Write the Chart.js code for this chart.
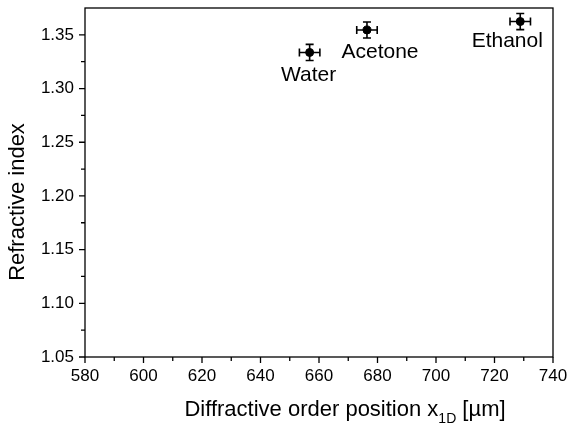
<!DOCTYPE html>
<html><head><meta charset="utf-8">
<script src="https://cdn.jsdelivr.net/npm/chart.js@4/dist/chart.umd.min.js"></script>
<style>html,body{margin:0;padding:0;background:#fff}#wrap{width:569px;height:425px;position:relative}</style>
</head><body><div id="wrap"><canvas id="c"></canvas></div>
<script>
// ---- data ----
const solvents = ['Water', 'Acetone', 'Ethanol'];
const positionX = [656.8, 676.4, 728.8];
const refractiveIndex = [1.3336, 1.3545, 1.3624];
const positionXErr = [3.5, 3.5, 3.5];
const refractiveIndexErr = [0.0075, 0.0075, 0.0075];
const xTickLabels = [580, 600, 620, 640, 660, 680, 700, 720, 740];
const xMinorTicks = [590, 610, 630, 650, 670, 690, 710, 730];
const yTickLabels = ['1.05', '1.10', '1.15', '1.20', '1.25', '1.30', '1.35'];
const yMinorTicks = [1.075, 1.125, 1.175, 1.225, 1.275, 1.325];
const xTitle = ['Diffractive order position x', '1D', ' [µm]'];
const yTitle = 'Refractive index';

// ---- style ----
const FONT = '"Liberation Sans", Arial, sans-serif';
const labelOffsets = [{dx: -1, dy: 23}, {dx: 13, dy: 22}, {dx: -13, dy: 20}];

const points = positionX.map((x, i) => ({x: x, y: refractiveIndex[i]}));

const decorPlugin = {
  id: 'decor',
  afterDatasetsDraw(chart) {
    const ctx = chart.ctx, xs = chart.scales.x, ys = chart.scales.y;
    ctx.save();
    ctx.strokeStyle = '#000'; ctx.lineWidth = 1.6;
    points.forEach((p, i) => {
      const px = xs.getPixelForValue(p.x), py = ys.getPixelForValue(p.y);
      const x1 = xs.getPixelForValue(p.x - positionXErr[i]), x2 = xs.getPixelForValue(p.x + positionXErr[i]);
      const y1 = ys.getPixelForValue(p.y - refractiveIndexErr[i]), y2 = ys.getPixelForValue(p.y + refractiveIndexErr[i]);
      ctx.beginPath();
      ctx.moveTo(x1, py); ctx.lineTo(x2, py);
      ctx.moveTo(x1, py - 4); ctx.lineTo(x1, py + 4);
      ctx.moveTo(x2, py - 4); ctx.lineTo(x2, py + 4);
      ctx.moveTo(px, y1); ctx.lineTo(px, y2);
      ctx.moveTo(px - 4, y1); ctx.lineTo(px + 4, y1);
      ctx.moveTo(px - 4, y2); ctx.lineTo(px + 4, y2);
      ctx.stroke();
    });
    ctx.fillStyle = '#000'; ctx.font = '21px ' + FONT; ctx.textAlign = 'center'; ctx.textBaseline = 'middle';
    points.forEach((p, i) => {
      const px = xs.getPixelForValue(p.x), py = ys.getPixelForValue(p.y);
      ctx.fillText(solvents[i], px + labelOffsets[i].dx, py + labelOffsets[i].dy);
    });
    ctx.restore();
  },
  afterDraw(chart) {
    const ctx = chart.ctx, xs = chart.scales.x, ys = chart.scales.y, ca = chart.chartArea;
    ctx.save();
    ctx.strokeStyle = '#000'; ctx.lineWidth = 1.3;
    ctx.strokeRect(ca.left, ca.top, ca.right - ca.left, ca.bottom - ca.top);
    ctx.beginPath();
    xTickLabels.forEach(v => { const px = xs.getPixelForValue(v); ctx.moveTo(px, ca.bottom); ctx.lineTo(px, ca.bottom + 6); });
    xMinorTicks.forEach(v => { const px = xs.getPixelForValue(v); ctx.moveTo(px, ca.bottom); ctx.lineTo(px, ca.bottom + 4); });
    yTickLabels.forEach(v => { const py = ys.getPixelForValue(parseFloat(v)); ctx.moveTo(ca.left, py); ctx.lineTo(ca.left - 6, py); });
    yMinorTicks.forEach(v => { const py = ys.getPixelForValue(v); ctx.moveTo(ca.left, py); ctx.lineTo(ca.left - 4, py); });
    ctx.stroke();
    ctx.fillStyle = '#000'; ctx.textBaseline = 'alphabetic'; ctx.textAlign = 'left';
    const big = '22px ' + FONT, small = '14px ' + FONT;
    ctx.font = big; const w1 = ctx.measureText(xTitle[0]).width, w3 = ctx.measureText(xTitle[2]).width;
    ctx.font = small; const w2 = ctx.measureText(xTitle[1]).width;
    const total = w1 + w2 + w3;
    const cx = (ca.left + ca.right) / 2 + 26, base = ca.bottom + 59;
    let sx = cx - total / 2;
    ctx.font = big; ctx.fillText(xTitle[0], sx, base); sx += w1;
    ctx.font = small; ctx.fillText(xTitle[1], sx, base + 7); sx += w2;
    ctx.font = big; ctx.fillText(xTitle[2], sx, base);
    ctx.translate(18, 202); ctx.rotate(-Math.PI / 2);
    ctx.font = big; ctx.textAlign = 'center'; ctx.textBaseline = 'middle';
    ctx.fillText(yTitle, 0, 0);
    ctx.restore();
  }
};

new Chart(document.getElementById('c'), {
  type: 'scatter',
  data: {
    datasets: [{
      data: points,
      backgroundColor: '#000', borderColor: '#000',
      pointRadius: 4, pointHoverRadius: 4
    }]
  },
  options: {
    responsive: true, maintainAspectRatio: false, animation: false,
    layout: {padding: {top: 8, right: 16, left: 0, bottom: 0}},
    plugins: {legend: {display: false}, tooltip: {enabled: false}},
    scales: {
      x: {
        type: 'linear', min: 580, max: 740,
        afterBuildTicks: s => { s.ticks = xTickLabels.map(v => ({value: v})); },
        afterFit: s => { s.height = 68; s.paddingLeft = 0; s.paddingRight = 0; s.paddingTop = 0; s.paddingBottom = 0; },
        ticks: {color: '#000', font: {family: FONT, size: 17}, padding: 9, maxRotation: 0, callback: v => String(v)},
        grid: {display: true, drawOnChartArea: false, drawTicks: false},
        border: {display: false}
      },
      y: {
        type: 'linear', min: 1.05, max: 1.375,
        afterBuildTicks: s => { s.ticks = yTickLabels.map(v => ({value: parseFloat(v)})); },
        afterFit: s => { s.width = 85; s.paddingLeft = 0; s.paddingRight = 0; s.paddingTop = 0; s.paddingBottom = 0; },
        ticks: {color: '#000', font: {family: FONT, size: 17}, padding: 11, callback: (v, i) => yTickLabels[i]},
        grid: {display: true, drawOnChartArea: false, drawTicks: false},
        border: {display: false}
      }
    }
  },
  plugins: [decorPlugin]
});
</script></body></html>
